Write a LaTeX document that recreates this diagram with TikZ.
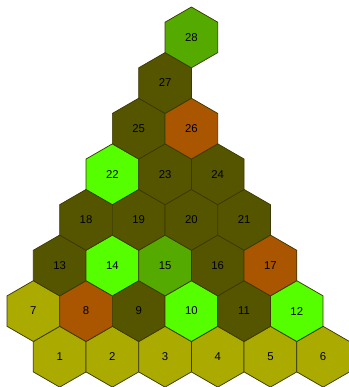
\documentclass[tikz,border=0pt]{standalone}
\usepackage{fontspec}
\setmainfont{Liberation Sans}
\usepackage{tikz}
\usetikzlibrary{shapes.geometric}
\definecolor{hexolive}{HTML}{AAAA00}
\definecolor{hexdark}{HTML}{555500}
\definecolor{hexrust}{HTML}{AA5500}
\definecolor{hexlime}{HTML}{55FF00}
\definecolor{hexgreen}{HTML}{55AA00}
\definecolor{hexline}{HTML}{3A3A00}

\begin{document}
\begin{tikzpicture}[x=19.75pt,y=34.2pt,
  hex/.style={regular polygon,regular polygon sides=6,regular polygon rotate=30,
    minimum size=45.6pt,inner sep=0pt,outer sep=0pt,draw=hexline,line width=0.55pt,
    font=\fontsize{8.5}{10}\selectfont},
  olive/.style={hex,fill=hexolive},
  dark/.style={hex,fill=hexdark},
  rust/.style={hex,fill=hexrust},
  lime/.style={hex,fill=hexlime},
  green/.style={hex,fill=hexgreen}]
\useasboundingbox (-1.266,-0.664) rectangle (11.95,7.82);

% ---- bottom row ----------------------------------------------------------
\node[olive] (h1) at (1,0)  {1};
\node[olive] (h2) at (3,0)  {2};
\node[olive] (h3) at (5,0)  {3};
\node[olive] (h4) at (7,0)  {4};
\node[olive] (h5) at (9,0)  {5};
\node[olive] (h6) at (11,0) {6};
% ---- second row ----------------------------------------------------------
\node[olive] (h7)  at (0,1)  {7};
\node[rust]  (h8)  at (2,1)  {8};
\node[dark]  (h9)  at (4,1)  {9};
\node[lime]  (h10) at (6,1)  {10};
\node[dark]  (h11) at (8,1)  {11};
\node[lime]  (h12) at (10,1) {12};
% ---- third row -----------------------------------------------------------
\node[dark]  (h13) at (1,2) {13};
\node[lime]  (h14) at (3,2) {14};
\node[green] (h15) at (5,2) {15};
\node[dark]  (h16) at (7,2) {16};
\node[rust]  (h17) at (9,2) {17};
% ---- fourth row ----------------------------------------------------------
\node[dark]  (h18) at (2,3) {18};
\node[dark]  (h19) at (4,3) {19};
\node[dark]  (h20) at (6,3) {20};
\node[dark]  (h21) at (8,3) {21};
% ---- upper rows ----------------------------------------------------------
\node[lime]  (h22) at (3,4) {22};
\node[dark]  (h23) at (5,4) {23};
\node[dark]  (h24) at (7,4) {24};
\node[dark]  (h25) at (4,5) {25};
\node[rust]  (h26) at (6,5) {26};
\node[dark]  (h27) at (5,6) {27};
\node[green] (h28) at (6,7) {28};
\end{tikzpicture}
\end{document}
